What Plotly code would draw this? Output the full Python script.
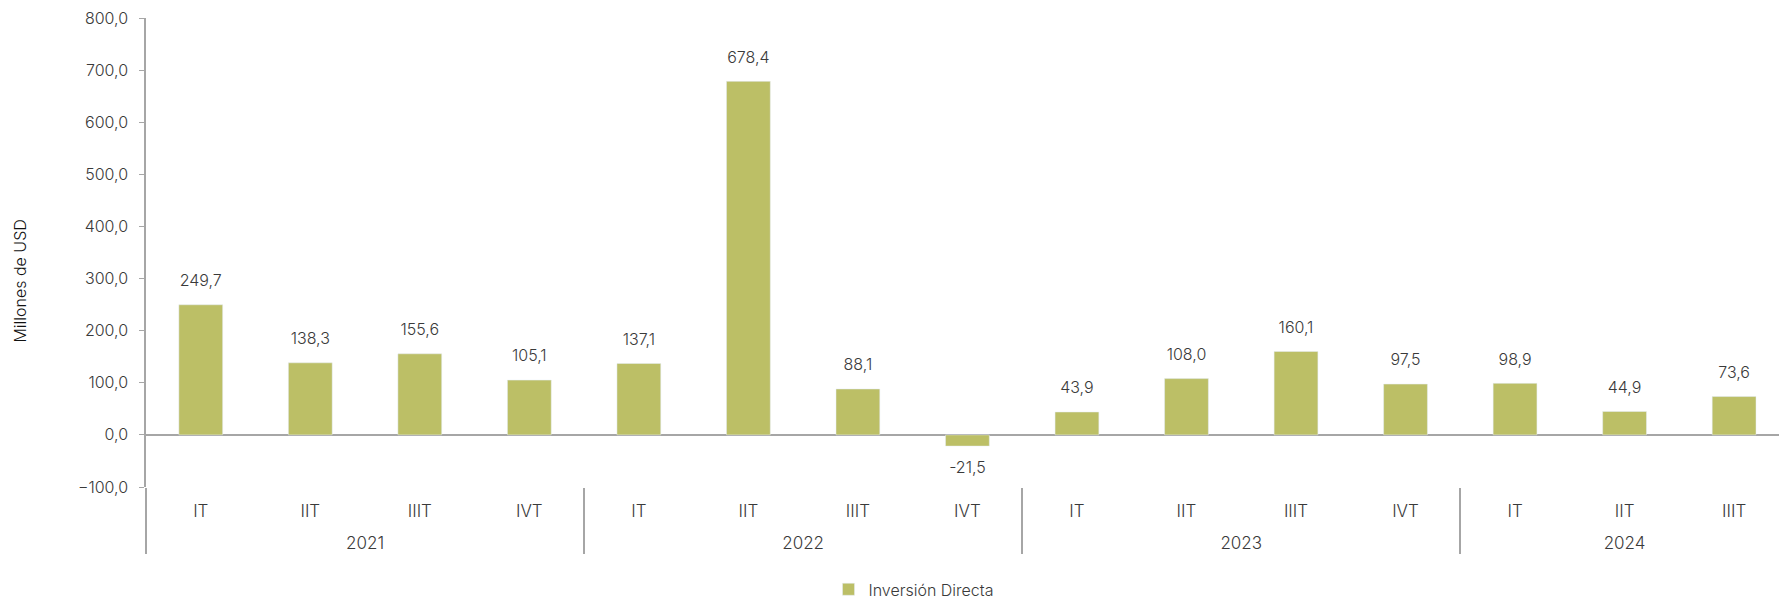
import plotly.graph_objects as go

years = ['2021'] * 4 + ['2022'] * 4 + ['2023'] * 4 + ['2024'] * 3
quarters = ['IT', 'IIT', 'IIIT', 'IVT'] * 3 + ['IT', 'IIT', 'IIIT']
inversion_directa = [249.7, 138.3, 155.6, 105.1,
                     137.1, 678.4, 88.1, -21.5,
                     43.9, 108.0, 160.1, 97.5,
                     98.9, 44.9, 73.6]

FONT = 'Inter'
TXT = '#3a3a3a'
AXIS = '#a6a6a6'

# extra blank line under the quarter labels pushes the year row down
x_cats = [years, [q + '<br> ' for q in quarters]]

fig = go.Figure()
fig.add_trace(go.Bar(
    x=x_cats, y=inversion_directa,
    name='Inversión Directa',
    marker_color='#bcbf66',
))
# value labels, kept a little away from the bar ends
fig.add_trace(go.Scatter(
    x=x_cats, y=inversion_directa,
    mode='markers+text',
    marker=dict(size=22, opacity=0),
    texttemplate='%{y:.1f}',
    textposition=['top center' if v >= 0 else 'bottom center' for v in inversion_directa],
    textfont=dict(family=FONT, size=16, color=TXT, weight=300),
    showlegend=False, hoverinfo='skip', cliponaxis=False,
))

fig.update_layout(
    width=1779, height=602,
    margin=dict(l=146, r=0, t=18, b=115, autoexpand=False),
    plot_bgcolor='white', paper_bgcolor='white',
    separators=',.',
    bargap=0.6,
    font=dict(family=FONT, size=16, color=TXT, weight=300),
    showlegend=True,
    legend=dict(orientation='h', x=0.47, xanchor='center',
                y=-0.182, yanchor='top', itemwidth=30,
                font=dict(family=FONT, size=16, color=TXT, weight=300)),
)
fig.update_xaxes(
    range=[-0.5, 14.41],
    automargin=False,
    showline=False, showgrid=False,
    tickfont=dict(family=FONT, size=17, color=TXT, weight=300),
    showdividers=True, dividercolor=AXIS, dividerwidth=1.5,
    ticks='', ticklabelstandoff=12,
)
fig.update_yaxes(
    range=[-100, 800], dtick=100, tickformat='.1f',
    automargin=False,
    showline=True, linecolor=AXIS, linewidth=1.5,
    ticks='outside', ticklen=5, tickcolor=AXIS,
    ticklabelstandoff=8,
    showgrid=False,
    zeroline=True, zerolinecolor=AXIS, zerolinewidth=1.5,
    tickfont=dict(family=FONT, size=16, color=TXT, weight=300),
)
fig.add_annotation(text='Millones de USD', xref='paper', yref='paper',
                   x=-0.0772, y=0.44, xanchor='center', yanchor='middle',
                   textangle=-90, showarrow=False,
                   font=dict(family=FONT, size=16, color='#111111'))

fig.write_html('out.html', config={'displayModeBar': False},
               post_script="document.body.style.margin = '0';")
